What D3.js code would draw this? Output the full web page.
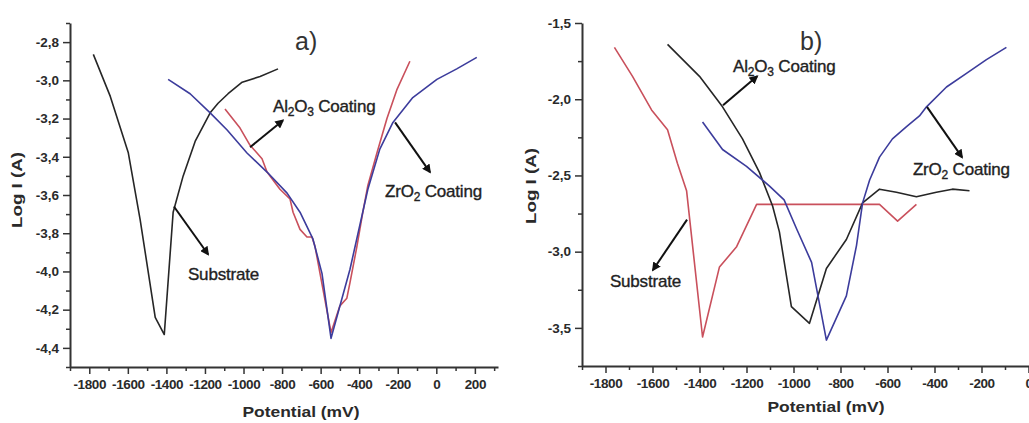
<!DOCTYPE html>
<html><head><meta charset="utf-8">
<script src="https://cdn.jsdelivr.net/npm/d3@7/dist/d3.min.js"></script>
<style>body{margin:0;background:#fff}svg{display:block}</style>
</head><body>
<svg id="c" width="1029" height="423"></svg>
<script>
// ---------- Panel a data ----------
const aSubstrateV    = [-1779,-1691,-1598,-1536,-1458,-1411,-1365,-1313,-1251,-1173,-1132,-1080,-1007,-914,-821];
const aSubstrateLogI = [-2.864,-3.084,-3.377,-3.73,-4.24,-4.33,-3.69,-3.50,-3.32,-3.17,-3.12,-3.07,-3.01,-2.98,-2.94];
const aZrO2V    = [-1391,-1277,-1173,-1085,-982,-878,-774,-707,-640,-593,-546,-448,-355,-293,-225,-122,3,106,210];
const aZrO2LogI = [-2.995,-3.07,-3.17,-3.26,-3.38,-3.48,-3.59,-3.69,-3.83,-4.01,-4.35,-3.99,-3.57,-3.36,-3.22,-3.09,-2.995,-2.94,-2.88];
const aAl2O3V    = [-1096,-1018,-966,-930,-904,-878,-811,-759,-743,-707,-671,-645,-629,-546,-500,-464,-448,-412,-381,-355,-308,-256,-205,-137];
const aAl2O3LogI = [-3.15,-3.25,-3.34,-3.38,-3.41,-3.48,-3.57,-3.62,-3.69,-3.78,-3.82,-3.82,-3.87,-4.32,-4.18,-4.14,-4.06,-3.87,-3.69,-3.55,-3.38,-3.20,-3.05,-2.90];
const aXTicks = [-1800,-1600,-1400,-1200,-1000,-800,-600,-400,-200,0,200];
const aYTicks = [-2.8,-3.0,-3.2,-3.4,-3.6,-3.8,-4.0,-4.2,-4.4];

// ---------- Panel b data ----------
const bSubstrateV    = [-1762,-1685,-1604,-1536,-1494,-1455,-1387,-1315,-1243,-1157,-634,-557,-477];
const bSubstrateLogI = [-1.66,-1.85,-2.07,-2.20,-2.42,-2.60,-3.56,-3.10,-2.97,-2.69,-2.69,-2.80,-2.69];
const bAl2O3V    = [-1536,-1400,-1302,-1217,-1145,-1089,-1060,-1009,-932,-860,-775,-706,-634,-562,-477,-392,-324,-251];
const bAl2O3LogI = [-1.64,-1.85,-2.05,-2.26,-2.48,-2.70,-2.87,-3.36,-3.47,-3.11,-2.92,-2.68,-2.59,-2.61,-2.64,-2.61,-2.59,-2.60];
const bZrO2V    = [-1387,-1302,-1200,-1102,-1040,-987,-923,-860,-775,-732,-706,-676,-634,-579,-519,-464,-434,-349,-264,-179,-94];
const bZrO2LogI = [-2.15,-2.33,-2.44,-2.57,-2.66,-2.85,-3.07,-3.58,-3.29,-2.96,-2.68,-2.53,-2.38,-2.26,-2.18,-2.11,-2.05,-1.92,-1.83,-1.74,-1.66];
const bXTicks = [-1800,-1600,-1400,-1200,-1000,-800,-600,-400,-200,0];
const bYTicks = [-1.5,-2.0,-2.5,-3.0,-3.5];

const COL = {black:"#262626", red:"#c9505c", blue:"#3c3c9c", text:"#2a2a2a", axis:"#333"};

const svg = d3.select("#c");
svg.append("rect").attr("width",1029).attr("height",423).attr("fill","#fff");

const defs = svg.append("defs");
defs.append("marker").attr("id","ah").attr("viewBox","0 0 10 10").attr("refX",8).attr("refY",5)
  .attr("markerWidth",9).attr("markerHeight",9).attr("markerUnits","userSpaceOnUse").attr("orient","auto")
  .append("path").attr("d","M0,0 L10,5 L0,10 Z").attr("fill","#111");

const fmt = v => d3.format(".1f")(v).replace(".", ",").replace("−","-");

function panel(cfg){
  const g = svg.append("g");
  const x = d3.scaleLinear().domain(cfg.xDomain).range(cfg.xRange);
  const y = d3.scaleLinear().domain(cfg.yDomain).range(cfg.yRange);

  // minor ticks
  g.append("g").attr("transform",`translate(0,${cfg.yRange[0]})`)
    .call(d3.axisBottom(x).tickValues(cfg.xMinor).tickSize(4).tickFormat(""))
    .call(s=>{s.select(".domain").remove(); s.selectAll("line").attr("stroke",COL.axis).attr("stroke-width",1.5);});
  g.append("g").attr("transform",`translate(${cfg.xRange[0]},0)`)
    .call(d3.axisLeft(y).tickValues(cfg.yMinor).tickSize(4).tickFormat(""))
    .call(s=>{s.select(".domain").remove(); s.selectAll("line").attr("stroke",COL.axis).attr("stroke-width",1.5);});

  const xa = g.append("g").attr("transform",`translate(0,${cfg.yRange[0]})`)
    .call(d3.axisBottom(x).tickValues(cfg.xTicks).tickSize(7).tickSizeOuter(0).tickPadding(5).tickFormat(d=>String(d)));
  const ya = g.append("g").attr("transform",`translate(${cfg.xRange[0]},0)`)
    .call(d3.axisLeft(y).tickValues(cfg.yTicks).tickSize(7).tickSizeOuter(0).tickPadding(4).tickFormat(fmt));
  [xa,ya].forEach(a=>{
    a.select(".domain").attr("stroke",COL.axis).attr("stroke-width",2);
    a.selectAll(".tick line").attr("stroke",COL.axis).attr("stroke-width",1.5);
    a.selectAll(".tick text").attr("fill",COL.text).attr("font-family","Liberation Sans, Arial, sans-serif")
      .attr("font-weight","bold").attr("font-size",13.5);
  });
  xa.selectAll(".tick text").attr("letter-spacing",-0.4);

  const line = d3.line().x(d=>x(d[0])).y(d=>y(d[1]));
  cfg.series.forEach(s=>{
    g.append("path").datum(d3.zip(s.v,s.i)).attr("d",line).attr("fill","none")
      .attr("stroke",s.color).attr("stroke-width",1.6).attr("stroke-linejoin","round");
  });

  // axis titles
  g.append("text").attr("transform",`translate(${cfg.yTitle[0]},${cfg.yTitle[1]}) rotate(-90)`)
    .attr("text-anchor","middle").attr("font-family","Liberation Sans, Arial, sans-serif").attr("font-weight","bold")
    .attr("font-size",15).attr("fill",COL.text).attr("textLength",76).attr("lengthAdjust","spacingAndGlyphs").text("Log I (A)");
  g.append("text").attr("x",cfg.xTitle[0]).attr("y",cfg.xTitle[1])
    .attr("text-anchor","middle").attr("font-family","Liberation Sans, Arial, sans-serif").attr("font-weight","bold")
    .attr("font-size",15).attr("fill",COL.text).attr("textLength",117).attr("lengthAdjust","spacingAndGlyphs").text("Potential (mV)");

  // panel letter
  g.append("text").attr("x",x(cfg.letter.v)).attr("y",y(cfg.letter.i))
    .attr("font-family","Liberation Sans, Arial, sans-serif").attr("font-size",25).attr("fill","#333").text(cfg.letter.t);

  // annotations
  cfg.notes.forEach(n=>{
    g.append("line").attr("x1",x(n.from[0])).attr("y1",y(n.from[1])).attr("x2",x(n.to[0])).attr("y2",y(n.to[1]))
      .attr("stroke","#111").attr("stroke-width",2).attr("marker-end","url(#ah)");
    const t = g.append("text").attr("x",x(n.at[0])).attr("y",y(n.at[1]))
      .attr("font-family","Liberation Sans, Arial, sans-serif").attr("font-size",17).attr("fill","#222")
      .attr("stroke","#222").attr("stroke-width",0.35).attr("letter-spacing",-0.2);
    n.parts.forEach(p=>{
      const ts = t.append("tspan").text(p[0]);
      if(p[1]) ts.attr("font-size",12).attr("dy",4);
      else if(p[2]) ts.attr("dy",-4);
    });
  });
}

function al(){return [["Al"],["2",1],["O",0,1],["3",1],[" Coating",0,1]];}
function zr(){return [["ZrO"],["2",1],[" Coating",0,1]];}

panel({
  xDomain:[-1900,320], xRange:[70,498], yDomain:[-4.5,-2.7], yRange:[367,23],
  xTicks:aXTicks, yTicks:aYTicks,
  xMinor:[-1900,-1700,-1500,-1300,-1100,-900,-700,-500,-300,-100,100,300],
  yMinor:[-2.7,-2.9,-3.1,-3.3,-3.5,-3.7,-3.9,-4.1,-4.3,-4.5],
  series:[{v:aSubstrateV,i:aSubstrateLogI,color:COL.black},
          {v:aAl2O3V,i:aAl2O3LogI,color:COL.red},
          {v:aZrO2V,i:aZrO2LogI,color:COL.blue}],
  yTitle:[22,190], xTitle:[301,417],
  letter:{t:"a)",v:-733,i:-2.84},
  notes:[
    {parts:al(), at:[-847,-3.165], from:[-966,-3.35], to:[-796,-3.21]},
    {parts:zr(), at:[-266,-3.61], from:[-214,-3.22], to:[-33,-3.48]},
    {parts:[["Substrate"]], at:[-1288,-4.045], from:[-1361,-3.66], to:[-1184,-3.91]}
  ]
});

panel({
  xDomain:[-1900,100], xRange:[582,1052], yDomain:[-3.75,-1.5], yRange:[366,23],
  xTicks:bXTicks, yTicks:bYTicks,
  xMinor:[-1900,-1700,-1500,-1300,-1100,-900,-700,-500,-300,-100,100],
  yMinor:[-1.75,-2.25,-2.75,-3.25,-3.75],
  series:[{v:bSubstrateV,i:bSubstrateLogI,color:COL.red},
          {v:bAl2O3V,i:bAl2O3LogI,color:COL.black},
          {v:bZrO2V,i:bZrO2LogI,color:COL.blue}],
  yTitle:[536,186], xTitle:[826,412],
  letter:{t:"b)",v:-972,i:-1.68},
  notes:[
    {parts:al(), at:[-1257,-1.82], from:[-1300,-2.04], to:[-1155,-1.85]},
    {parts:zr(), at:[-492,-2.50], from:[-432,-2.05], to:[-283,-2.38]},
    {parts:[["Substrate"]], at:[-1781,-3.23], from:[-1453,-2.79], to:[-1598,-3.12]}
  ]
});
</script>
</body></html>
